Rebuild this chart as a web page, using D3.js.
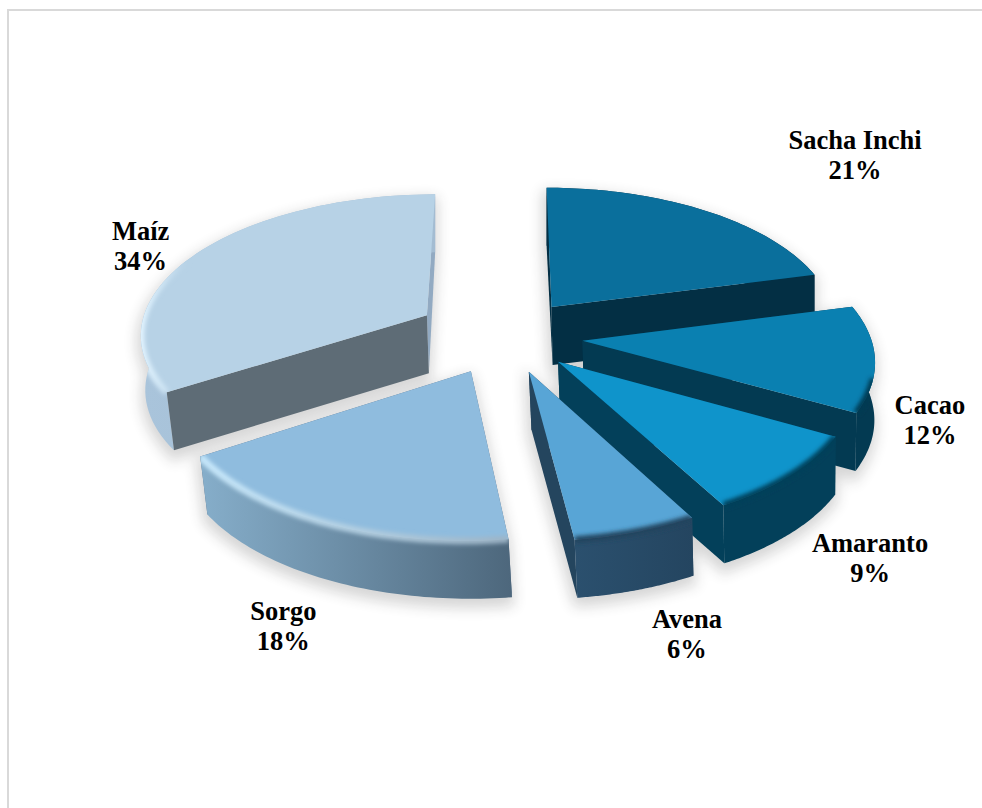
<!DOCTYPE html>
<html>
<head>
<meta charset="utf-8">
<script src="https://cdn.jsdelivr.net/npm/d3@7/dist/d3.min.js"></script>
<style>
html,body{margin:0;padding:0;background:#fff;}
svg{display:block;}
text{font-family:"Liberation Serif",serif;font-weight:700;font-size:26.5px;fill:#000;text-anchor:middle;}
</style>
</head>
<body>
<svg id="chart" width="982" height="808"></svg>
<script>
// Crop shares, clockwise from twelve o'clock
const categories = ["Sacha Inchi", "Cacao", "Amaranto", "Avena", "Sorgo", "Maíz"];
const shares = [21, 12, 9, 6, 18, 34];

// Per-slice palette
const topFill  = ["#0a6f9c", "#0a80b1", "#0f94cb", "#58a5d6", "#8fbcde", "#b7d2e6"];
const cutFill  = ["#032f44", "#033a52", "#03405a", "#24455e", "#56708a", "#5e6c76"];
const backFill = ["#032f44", "#033a52", "#03405a", "#24455e", "#56708a", "#92aac2"];
const rimFrom  = ["#032f44", "#033a52", "#03405a", "#2b506e", "#86aeca", "#a9c4db"];
const rimTo    = ["#032f44", "#033a52", "#03405a", "#244560", "#4d677c", "#a3bcd2"];
const edgeFrom = ["#0a6f9c", "#033a52", "#03405a", "#24455e", "#c8e9fc", "#e2f4ff"];
const edgeTo   = ["#0a6f9c", "#033a52", "#03405a", "#24455e", "#9db4c6", "#b7d2e6"];

// How far each slice is pulled out of the pie, in radius units
const explode = [0.27, 0.27, 0.255, 0.26, 0.27, 0.315];
// How far round the back the rounded lip still shows (cosine of the rim angle)
const lipReach = [-1, -0.25, 1, 1, 1, 0.45];
// Label nudge from the rim midpoint, in pixels
const labelNudge = [[150, -62], [55, 55], [79, 77], [51, 96.5], [-41, 97.5], [-56, -14]];

// Ground-plane projection of the tilted pie
const cx = 505, cy = 336, R = 288, tilt = 0.486, persp = 0.12, depth = 58, lineGap = 30;
const project = (u, v) => {
  const f = 1 / (1 - persp * v);
  return [cx + R * u * f, cy + R * tilt * v * f];
};
// Extruded underside; nearer points drift slightly toward the vanishing side
const drop = ([x, y]) => {
  const near = Math.max(0, Math.min(1, (y - 250) / 150));
  return [x + (800 - x) * 0.012 * near, y + depth];
};

const svg = d3.select("#chart");
const defs = svg.append("defs");
const line = d3.line();
const closed = pts => line(pts) + "Z";

defs.append("filter").attr("id", "soft").attr("x", "-20%").attr("y", "-20%").attr("width", "140%").attr("height", "140%")
  .append("feGaussianBlur").attr("stdDeviation", 7);
defs.append("filter").attr("id", "bevel").attr("filterUnits", "userSpaceOnUse")
  .attr("x", 0).attr("y", 0).attr("width", 982).attr("height", 808)
  .append("feGaussianBlur").attr("stdDeviation", 1.9);

// Chart frame
svg.append("path").attr("d", "M8,808V10H982").attr("fill", "none").attr("stroke", "#d9d9d9").attr("stroke-width", 2);

const arcs = d3.pie().sort(null).startAngle(0).endAngle(2 * Math.PI)(shares);

const slices = arcs.map((a, i) => {
  const mid = (a.startAngle + a.endAngle) / 2;
  const ou = explode[i] * Math.sin(mid), ov = -explode[i] * Math.cos(mid);
  const at = t => project(ou + Math.sin(t), ov - Math.cos(t));
  const angles = d3.range(0, 61).map(k => a.startAngle + (a.endAngle - a.startAngle) * k / 60);
  const rim = angles.map(at);
  const lip = angles.filter(t => Math.cos(t) <= lipReach[i]).map(at);
  const apex = project(ou, ov);
  const faces = [
    { kind: "cut", v: ov - Math.cos(a.startAngle) / 2, pts: [apex, rim[0], drop(rim[0]), drop(apex)] },
    { kind: "cut", v: ov - Math.cos(a.endAngle) / 2, pts: [apex, rim[60], drop(rim[60]), drop(apex)] },
    { kind: "rim", v: ov - Math.cos(mid), pts: [...rim, ...rim.slice().reverse().map(drop)] }
  ].sort((p, q) => p.v - q.v);
  return { i, mid, rim, lip, apex, faces, top: [apex, ...rim], labelAt: at(mid) };
});

// Soft ground shadow under every slice
const shadow = svg.append("g").attr("filter", "url(#soft)").attr("transform", "translate(-1,6)").attr("opacity", 0.19);
slices.forEach(s => {
  s.faces.concat([{ pts: s.top }]).forEach(f =>
    shadow.append("path").attr("d", closed(f.pts)).attr("fill", "#222").attr("stroke", "#222").attr("stroke-width", 6));
});

// Back slices first so nearer ones overlap them
const drawOrder = [0, 5, 1, 2, 4, 3];
drawOrder.forEach(idx => {
  const s = slices[idx], i = s.i;
  const grad = defs.append("linearGradient").attr("id", "rim" + i);
  grad.append("stop").attr("offset", 0).attr("stop-color", rimFrom[i]);
  grad.append("stop").attr("offset", 1).attr("stop-color", rimTo[i]);
  const eg = defs.append("linearGradient").attr("id", "edge" + i);
  eg.append("stop").attr("offset", 0).attr("stop-color", edgeFrom[i]);
  eg.append("stop").attr("offset", 1).attr("stop-color", edgeTo[i]);

  const clip = defs.append("clipPath").attr("id", "clip" + i);
  clip.append("path").attr("d", closed(s.top));
  s.faces.filter(f => f.kind === "rim").forEach(f => clip.append("path").attr("d", closed(f.pts)));

  const g = svg.append("g").attr("class", "slice").attr("data-name", categories[i]);
  s.faces.forEach((f, n) => {
    g.append("path").attr("d", closed(f.pts))
      .attr("fill", f.kind === "rim" ? `url(#rim${i})` : (n === 0 ? backFill[i] : cutFill[i]));
  });
  g.append("path").attr("d", closed(s.top)).attr("fill", topFill[i]);
  // Rounded lip where the top meets the rim
  if (s.lip.length > 1) {
    g.append("g").attr("clip-path", `url(#clip${i})`)
      .append("path").attr("d", line(s.lip)).attr("fill", "none")
      .attr("stroke", `url(#edge${i})`).attr("stroke-width", 7).attr("filter", "url(#bevel)");
  }
});

// Two-line labels: name and share
slices.forEach(s => {
  const [x, y] = s.labelAt;
  const [dx, dy] = labelNudge[s.i];
  const t = svg.append("text").attr("x", x + dx).attr("y", y + dy);
  t.append("tspan").attr("x", x + dx).text(categories[s.i]);
  t.append("tspan").attr("x", x + dx).attr("dy", lineGap).text(shares[s.i] + "%");
});
</script>
</body>
</html>
